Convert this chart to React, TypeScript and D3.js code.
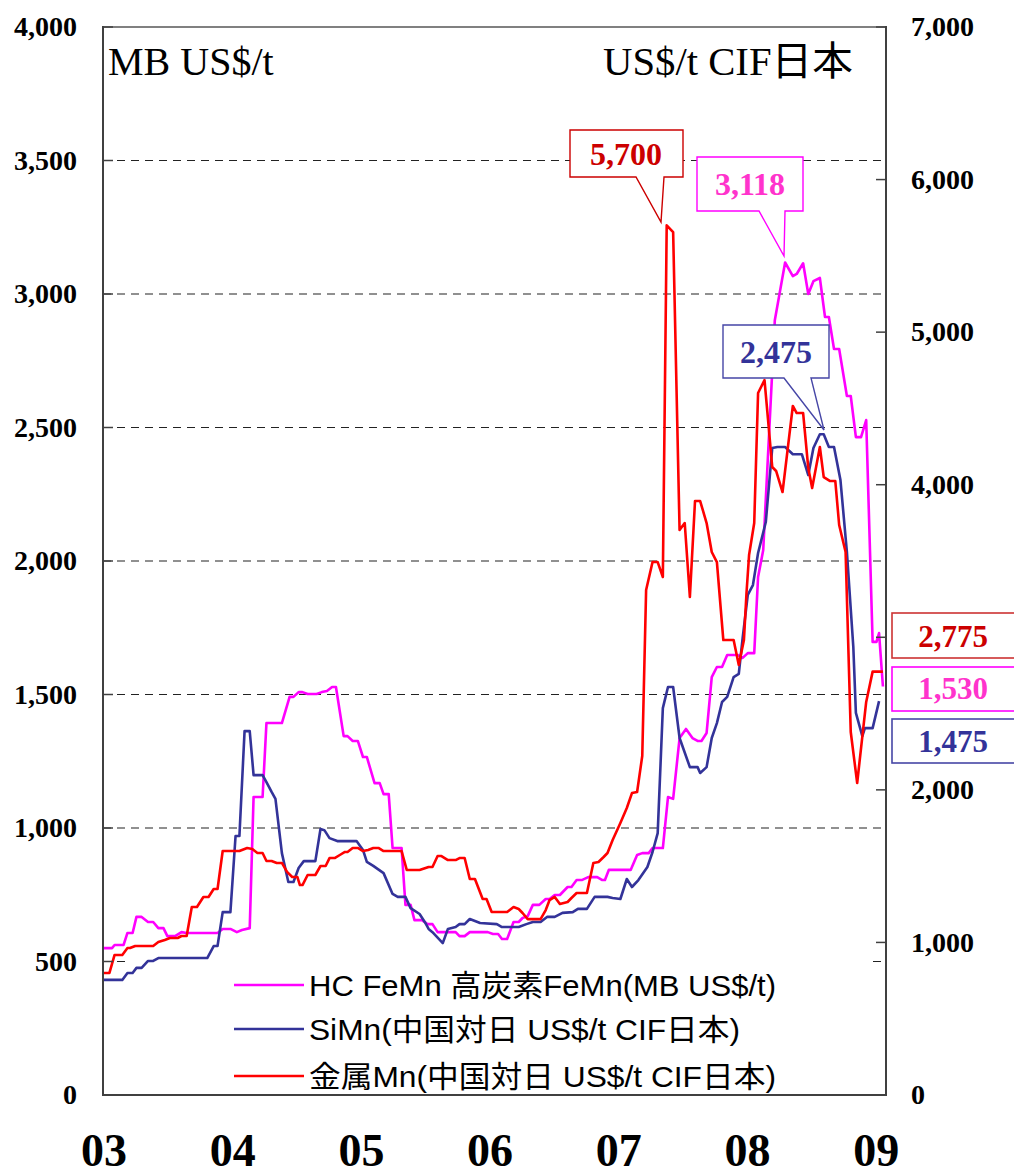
import React from 'react';
import * as d3 from 'd3';

// HC FeMn 高炭素FeMn (MB US$/t) – left axis
const hcFeMn: [number, number][] = [
  [2003.00,550],[2003.07,550],[2003.09,562],[2003.16,562],[2003.19,607],[2003.23,607],[2003.26,667],[2003.30,667],[2003.35,648],[2003.39,648],[2003.43,625],[2003.47,625],[2003.50,595],[2003.56,595],[2003.61,610],[2003.65,607],[2003.69,607],[2003.89,607],[2003.93,622],[2003.99,622],[2004.04,610],[2004.08,618],[2004.14,625],[2004.17,1116],[2004.24,1116],[2004.27,1393],[2004.39,1393],[2004.45,1491],[2004.48,1491],[2004.52,1509],[2004.55,1509],[2004.59,1502],[2004.66,1502],[2004.70,1509],[2004.74,1513],[2004.78,1528],[2004.81,1528],[2004.87,1344],[2004.90,1344],[2004.94,1326],[2004.98,1326],[2005.02,1266],[2005.05,1266],[2005.11,1168],[2005.15,1168],[2005.18,1127],[2005.22,1127],[2005.25,925],[2005.32,925],[2005.35,712],[2005.39,712],[2005.42,655],[2005.48,655],[2005.52,640],[2005.56,640],[2005.60,610],[2005.74,610],[2005.77,595],[2005.81,595],[2005.85,610],[2005.99,610],[2006.03,603],[2006.07,603],[2006.10,584],[2006.14,584],[2006.19,648],[2006.23,648],[2006.26,663],[2006.30,670],[2006.34,712],[2006.39,712],[2006.44,734],[2006.47,734],[2006.51,749],[2006.55,749],[2006.61,779],[2006.64,779],[2006.68,805],[2006.72,805],[2006.77,816],[2006.84,816],[2006.88,805],[2006.90,805],[2006.93,843],[2007.10,843],[2007.15,899],[2007.19,906],[2007.24,906],[2007.27,925],[2007.35,925],[2007.39,1116],[2007.43,1109],[2007.48,1337],[2007.53,1371],[2007.58,1337],[2007.62,1326],[2007.65,1326],[2007.69,1356],[2007.73,1565],[2007.77,1603],[2007.81,1603],[2007.85,1648],[2007.93,1648],[2007.97,1637],[2008.01,1655],[2008.06,1655],[2008.09,1940],[2008.13,2041],[2008.22,2902],[2008.30,3118],[2008.36,3067],[2008.39,3075],[2008.44,3115],[2008.48,3000],[2008.52,3048],[2008.57,3060],[2008.61,2914],[2008.64,2914],[2008.68,2794],[2008.72,2794],[2008.78,2618],[2008.81,2618],[2008.85,2464],[2008.89,2464],[2008.93,2528],[2008.98,1697],[2009.01,1697],[2009.03,1730],[2009.06,1530]
];

// SiMn (中国対日 US$/t CIF日本) – left axis
const siMn: [number, number][] = [
  [2003.00,431],[2003.15,431],[2003.19,457],[2003.23,457],[2003.26,476],[2003.30,476],[2003.35,502],[2003.39,502],[2003.43,513],[2003.81,513],[2003.86,558],[2003.89,558],[2003.93,685],[2003.99,685],[2004.03,970],[2004.06,970],[2004.10,1363],[2004.14,1363],[2004.17,1198],[2004.24,1198],[2004.27,1172],[2004.31,1135],[2004.34,1109],[2004.39,906],[2004.44,798],[2004.48,798],[2004.52,850],[2004.56,876],[2004.65,876],[2004.69,996],[2004.72,992],[2004.76,962],[2004.82,951],[2004.97,951],[2005.02,918],[2005.05,873],[2005.10,858],[2005.18,831],[2005.25,753],[2005.29,742],[2005.35,742],[2005.39,700],[2005.46,678],[2005.50,648],[2005.53,622],[2005.56,610],[2005.64,569],[2005.68,622],[2005.74,629],[2005.77,640],[2005.81,640],[2005.85,659],[2005.93,644],[2006.06,640],[2006.10,629],[2006.23,629],[2006.29,640],[2006.34,648],[2006.40,648],[2006.45,667],[2006.51,667],[2006.57,682],[2006.65,685],[2006.69,697],[2006.76,697],[2006.82,742],[2006.92,742],[2006.96,738],[2007.02,734],[2007.07,809],[2007.11,779],[2007.16,805],[2007.23,854],[2007.27,910],[2007.31,981],[2007.35,1449],[2007.39,1528],[2007.43,1528],[2007.48,1337],[2007.56,1228],[2007.62,1228],[2007.64,1206],[2007.69,1228],[2007.73,1337],[2007.77,1393],[2007.81,1472],[2007.85,1491],[2007.90,1565],[2007.94,1577],[2007.97,1711],[2008.01,1873],[2008.05,1910],[2008.09,2030],[2008.15,2146],[2008.20,2423],[2008.24,2427],[2008.30,2427],[2008.36,2400],[2008.43,2400],[2008.48,2322],[2008.52,2423],[2008.57,2475],[2008.60,2475],[2008.64,2427],[2008.68,2427],[2008.73,2303],[2008.78,2034],[2008.83,1678],[2008.85,1431],[2008.90,1344],[2008.92,1374],[2008.98,1374],[2009.03,1475]
];

// 金属Mn (中国対日 US$/t CIF日本) – right axis
const metalMn: [number, number][] = [
  [2003.00,800],[2003.05,800],[2003.09,918],[2003.15,918],[2003.19,963],[2003.21,963],[2003.25,977],[2003.39,977],[2003.43,1003],[2003.48,1016],[2003.52,1029],[2003.58,1029],[2003.61,1042],[2003.65,1042],[2003.69,1232],[2003.73,1232],[2003.78,1298],[2003.82,1298],[2003.86,1350],[2003.89,1350],[2003.93,1599],[2004.06,1599],[2004.12,1619],[2004.16,1612],[2004.20,1586],[2004.24,1586],[2004.27,1534],[2004.31,1534],[2004.35,1521],[2004.39,1521],[2004.43,1462],[2004.47,1429],[2004.51,1429],[2004.53,1376],[2004.55,1376],[2004.59,1442],[2004.65,1442],[2004.69,1501],[2004.73,1501],[2004.76,1553],[2004.80,1553],[2004.84,1573],[2004.88,1593],[2004.90,1593],[2004.94,1619],[2004.98,1619],[2005.02,1599],[2005.06,1606],[2005.10,1619],[2005.14,1619],[2005.18,1599],[2005.32,1599],[2005.36,1475],[2005.46,1475],[2005.53,1494],[2005.56,1494],[2005.60,1566],[2005.63,1566],[2005.68,1540],[2005.74,1540],[2005.77,1553],[2005.81,1553],[2005.85,1416],[2005.89,1416],[2005.95,1285],[2005.98,1285],[2006.02,1199],[2006.14,1199],[2006.19,1232],[2006.23,1219],[2006.26,1193],[2006.30,1153],[2006.40,1153],[2006.44,1212],[2006.47,1278],[2006.51,1298],[2006.55,1252],[2006.61,1265],[2006.64,1291],[2006.68,1324],[2006.76,1324],[2006.81,1521],[2006.85,1527],[2006.89,1560],[2006.92,1586],[2006.96,1671],[2007.02,1783],[2007.07,1881],[2007.11,1979],[2007.15,1986],[2007.19,2222],[2007.22,3310],[2007.27,3493],[2007.31,3493],[2007.35,3395],[2007.38,5700],[2007.43,5656],[2007.48,3703],[2007.52,3749],[2007.56,3264],[2007.60,3893],[2007.64,3893],[2007.69,3749],[2007.73,3559],[2007.77,3493],[2007.82,2982],[2007.90,2982],[2007.94,2818],[2007.98,2982],[2008.00,3290],[2008.02,3539],[2008.06,3749],[2008.09,4601],[2008.14,4686],[2008.20,4116],[2008.23,4090],[2008.28,3952],[2008.36,4516],[2008.39,4470],[2008.44,4470],[2008.48,4109],[2008.51,3978],[2008.57,4247],[2008.60,4050],[2008.65,4024],[2008.69,4024],[2008.72,3736],[2008.77,3559],[2008.81,2379],[2008.86,2045],[2008.93,2576],[2008.98,2775],[2009.06,2775]
];

const leftTicks = [0, 500, 1000, 1500, 2000, 2500, 3000, 3500, 4000];
const rightTicks = [0, 1000, 2000, 3000, 4000, 5000, 6000, 7000];
const gridValues = [500, 1000, 1500, 2000, 2500, 3000, 3500];
const yearValues = [2003, 2004, 2005, 2006, 2007, 2008, 2009];
const yearLabels = ['03', '04', '05', '06', '07', '08', '09'];
const legendLabels = [
  'HC FeMn 高炭素FeMn(MB US$/t)',
  'SiMn(中国対日 US$/t CIF日本)',
  '金属Mn(中国対日 US$/t CIF日本)',
];

const C_MAG = '#ff00ff';
const C_NAVY = '#333399';
const C_RED = '#ff0000';
const SERIF = "'Liberation Serif', 'Times New Roman', 'Noto Sans CJK JP', serif";
const SANS = "'Liberation Sans', Arial, 'Noto Sans CJK JP', sans-serif";

const L = 103, R = 886, T = 27, B = 1095;

export default function App() {
  const x = d3.scaleLinear().domain([2003, 2003 + (R - L) / 128.7]).range([L, R]);
  const yL = d3.scaleLinear().domain([0, 4000]).range([B, T]);
  const yR = d3.scaleLinear().domain([0, 7000]).range([B, T]);
  const fmt = d3.format(',');

  const lineL = d3.line<[number, number]>().x(d => x(d[0])).y(d => yL(d[1]));
  const lineR = d3.line<[number, number]>().x(d => x(d[0])).y(d => yR(d[1]));

  const maxRed = d3.max(metalMn, d => d[1]) as number;
  const maxMag = d3.max(hcFeMn, d => d[1]) as number;
  const maxNavy = d3.max(siMn, d => d[1]) as number;
  const lastRed = metalMn[metalMn.length - 1][1];
  const lastMag = hcFeMn[hcFeMn.length - 1][1];
  const lastNavy = siMn[siMn.length - 1][1];

  const callout = (bx0: number, by0: number, bx1: number, by1: number, t0: number, t1: number, tx: number, ty: number) =>
    `M${bx0},${by0}H${bx1}V${by1}H${t1}L${tx},${ty}L${t0},${by1}H${bx0}Z`;

  const callouts = [
    { text: fmt(maxRed), stroke: '#cc0000', fill: '#cc0000', path: callout(570, 130, 683, 177, 636, 664, 661, 222), cx: 626, by: 165 },
    { text: fmt(maxMag), stroke: '#ff00ff', fill: '#ff33cc', path: callout(697, 157, 803, 211, 759, 785, 784, 256), cx: 750, by: 195 },
    { text: fmt(maxNavy), stroke: '#4646a6', fill: C_NAVY, path: callout(723, 325, 829, 378, 784, 811, 824, 430), cx: 776, by: 363 },
  ];

  const endBoxes = [
    { text: fmt(lastRed), stroke: '#cc3333', fill: '#cc0000', y0: 613, y1: 658, by: 647 },
    { text: fmt(lastMag), stroke: '#ff00ff', fill: '#ff33cc', y0: 667, y1: 711, by: 699 },
    { text: fmt(lastNavy), stroke: '#4646a6', fill: C_NAVY, y0: 719, y1: 763, by: 752 },
  ];
  // right tick labels hidden behind the end-value boxes are not drawn
  const rightLabelTicks = rightTicks.filter(v => {
    const yy = yR(v);
    return !endBoxes.some(b => yy > b.y0 - 8 && yy < b.y1 + 8);
  });

  const legendColors = [C_MAG, C_NAVY, C_RED];
  const legendY = [985, 1029, 1076];
  const legendLen = [467, 431, 467];

  return (
    <svg width={1014} height={1173} style={{ position: 'absolute', left: 0, top: 0, background: '#fff' }}>
      <rect x={0} y={0} width={1014} height={1173} fill="#fff" />
      {gridValues.map(v => (
        <line key={v} x1={L} x2={R} y1={yL(v)} y2={yL(v)} stroke="#222" strokeWidth={1.2} strokeDasharray="8,6" />
      ))}
      <rect x={126} y={960} width={747} height={133} fill="#fff" />
      <path d={lineL(hcFeMn) || ''} fill="none" stroke={C_MAG} strokeWidth={2.6} strokeLinejoin="round" />
      <path d={lineL(siMn) || ''} fill="none" stroke={C_NAVY} strokeWidth={2.6} strokeLinejoin="round" />
      <path d={lineR(metalMn) || ''} fill="none" stroke={C_RED} strokeWidth={2.6} strokeLinejoin="round" />
      <line x1={L} x2={R} y1={T} y2={T} stroke="#808080" strokeWidth={2} />
      <line x1={L} x2={L} y1={T - 1} y2={B + 1} stroke="#404040" strokeWidth={2} />
      <line x1={R} x2={R} y1={T - 1} y2={B + 1} stroke="#404040" strokeWidth={2} />
      <line x1={L} x2={R} y1={B} y2={B} stroke="#404040" strokeWidth={2} />
      {leftTicks.map(v => (
        <line key={'lt' + v} x1={L} x2={L + 10} y1={yL(v)} y2={yL(v)} stroke="#404040" strokeWidth={1.5} />
      ))}
      {rightTicks.map(v => (
        <line key={'rt' + v} x1={R - 10} x2={R} y1={yR(v)} y2={yR(v)} stroke="#404040" strokeWidth={1.5} />
      ))}
      {leftTicks.map(v => (
        <text key={'ll' + v} x={77} y={yL(v)} dy="0.33em" textAnchor="end" fontFamily={SERIF} fontWeight="bold" fontSize={28} fill="#000">
          {fmt(v)}
        </text>
      ))}
      {rightLabelTicks.map(v => (
        <text key={'rl' + v} x={911} y={yR(v)} dy="0.33em" textAnchor="start" fontFamily={SERIF} fontWeight="bold" fontSize={28} fill="#000">
          {fmt(v)}
        </text>
      ))}
      {yearValues.map((yv, i) => (
        <text key={'yr' + yv} x={x(yv) + 1} y={1166} textAnchor="middle" fontFamily={SERIF} fontWeight="bold" fontSize={46} fill="#000">
          {yearLabels[i]}
        </text>
      ))}
      <text x={108} y={75} fontFamily={SERIF} fontSize={40} fill="#000">MB US$/t</text>
      <text x={853} y={75} textAnchor="end" fontFamily={SERIF} fontSize={40} fill="#000" textLength={250} lengthAdjust="spacingAndGlyphs">US$/t CIF日本</text>
      {legendLabels.map((lab, i) => (
        <g key={'lg' + i}>
          <line x1={234} x2={304} y1={legendY[i]} y2={legendY[i]} stroke={legendColors[i]} strokeWidth={2.6} />
          <text x={309} y={legendY[i] + 11} fontFamily={SANS} fontSize={30} fill="#000" textLength={legendLen[i]} lengthAdjust="spacingAndGlyphs">
            {lab}
          </text>
        </g>
      ))}
      {callouts.map((c, i) => (
        <g key={'co' + i}>
          <path d={c.path} fill="#fff" stroke={c.stroke} strokeWidth={1.4} />
          <text x={c.cx} y={c.by} textAnchor="middle" fontFamily={SERIF} fontWeight="bold" fontSize={32} fill={c.fill}>{c.text}</text>
        </g>
      ))}
      {endBoxes.map((b, i) => (
        <g key={'eb' + i}>
          <rect x={892} y={b.y0} width={140} height={b.y1 - b.y0} fill="#fff" stroke={b.stroke} strokeWidth={1.6} />
          <text x={953} y={b.by} textAnchor="middle" fontFamily={SERIF} fontWeight="bold" fontSize={31} fill={b.fill}>{b.text}</text>
        </g>
      ))}
    </svg>
  );
}
